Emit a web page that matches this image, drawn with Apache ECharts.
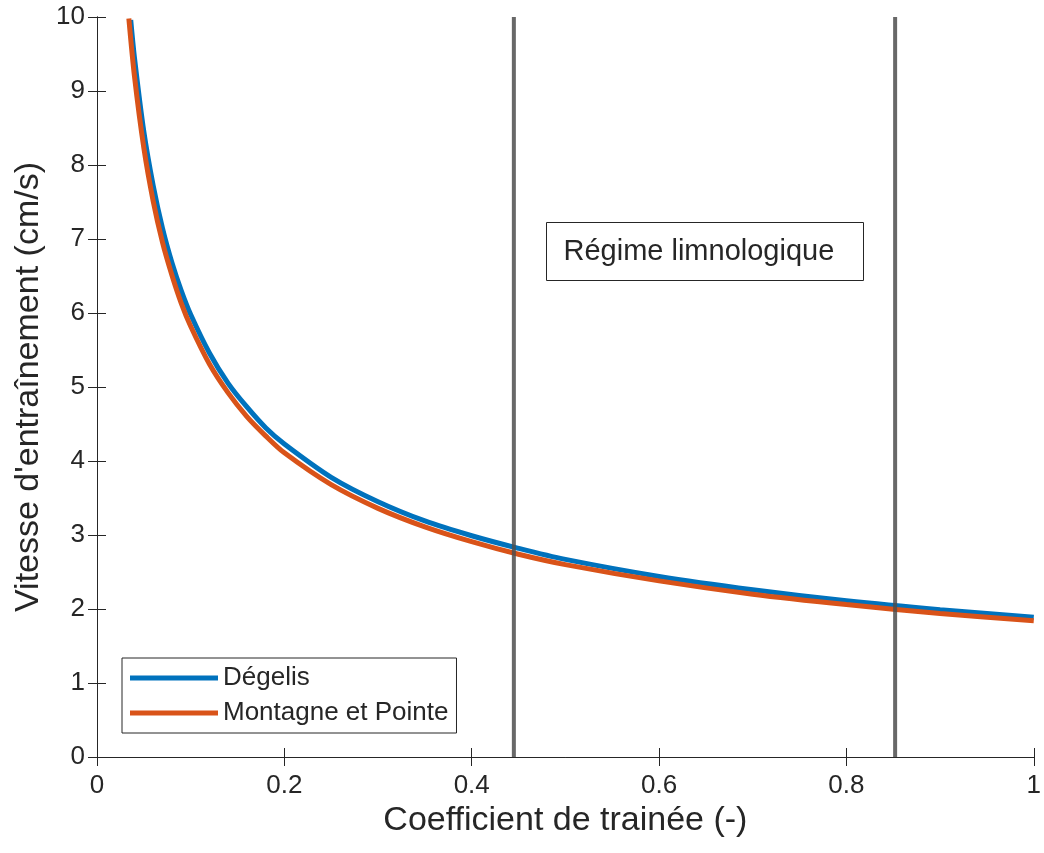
<!DOCTYPE html>
<html>
<head>
<meta charset="utf-8">
<script src="https://cdn.jsdelivr.net/npm/echarts@6/dist/echarts.min.js"></script>
<style>
  html, body { margin: 0; padding: 0; background: #fff; }
  #chart { width: 1044px; height: 853px; }
</style>
</head>
<body>
<div id="chart"></div>
<script>
// Drag coefficient samples and entrainment velocity (cm/s) for each site
const degelisCd = [0.036, 0.04, 0.05, 0.06, 0.07, 0.08, 0.09, 0.1, 0.12, 0.14, 0.16, 0.18, 0.2, 0.25, 0.3, 0.35, 0.4, 0.45, 0.5, 0.6, 0.7, 0.8, 0.9, 1.0];
const degelisV  = [9.96, 9.45, 8.45, 7.72, 7.14, 6.68, 6.30, 5.98, 5.46, 5.05, 4.73, 4.45, 4.23, 3.78, 3.45, 3.19, 2.99, 2.82, 2.67, 2.44, 2.26, 2.11, 1.99, 1.89];

const montagneCd = [0.034, 0.04, 0.05, 0.06, 0.07, 0.08, 0.09, 0.1, 0.12, 0.14, 0.16, 0.18, 0.2, 0.25, 0.3, 0.35, 0.4, 0.45, 0.5, 0.6, 0.7, 0.8, 0.9, 1.0];
const montagneV  = [9.98, 9.20, 8.23, 7.51, 6.95, 6.51, 6.13, 5.82, 5.31, 4.92, 4.60, 4.34, 4.11, 3.68, 3.36, 3.11, 2.91, 2.74, 2.60, 2.38, 2.20, 2.06, 1.94, 1.84];

// Bounds of the limnological regime
const regimeBounds = [0.445, 0.852];
const regimeLabel = 'Régime limnologique';

const seriesNames = ['Dégelis', 'Montagne et Pointe'];

const FONT = '"Liberation Sans", Arial, Helvetica, sans-serif';
const TXT = '#262626';
const AX = '#262626';

const chart = echarts.init(document.getElementById('chart'), null, { renderer: 'canvas' });

const pairs = (xs, ys) => xs.map((x, i) => [x, ys[i]]);

const axisCommon = {
  axisLine: { show: true, lineStyle: { color: AX, width: 1 } },
  axisTick: { show: true, inside: true, length: 9, lineStyle: { color: AX, width: 1 } },
  splitLine: { show: false }
};

const option = {
  animation: false,
  backgroundColor: '#ffffff',
  grid: { left: 97, right: 8, top: 17, bottom: 96, containLabel: false },
  xAxis: [
    Object.assign({
      type: 'value', min: 0, max: 1, interval: 0.2, position: 'bottom',
      name: 'Coefficient de trainée (-)', nameLocation: 'middle', nameGap: 36,
      nameTextStyle: { fontFamily: FONT, fontSize: 34, color: TXT },
      axisLabel: { fontFamily: FONT, fontSize: 26, color: TXT, margin: 16,
        formatter: v => String(Math.round(v * 10) / 10) }
    }, axisCommon),
    Object.assign({
      type: 'value', min: 0, max: 1, interval: 0.2, position: 'top',
      axisLabel: { show: false }
    }, axisCommon)
  ],
  yAxis: [
    Object.assign({
      type: 'value', min: 0, max: 10, interval: 1, position: 'left',
      name: "Vitesse d'entraînement (cm/s)", nameLocation: 'middle', nameGap: 50,
      nameTextStyle: { fontFamily: FONT, fontSize: 34, color: TXT },
      axisLabel: { fontFamily: FONT, fontSize: 26, color: TXT, margin: 12 }
    }, axisCommon),
    Object.assign({
      type: 'value', min: 0, max: 10, interval: 1, position: 'right',
      axisLabel: { show: false }
    }, axisCommon)
  ],
  legend: {
    orient: 'vertical',
    left: 122, top: 658,
    data: seriesNames,
    icon: 'rect',
    itemWidth: 88, itemHeight: 5,
    itemGap: 9,
    itemStyle: { borderWidth: 0 },
    padding: [7, 8, 7, 8],
    borderColor: '#262626', borderWidth: 1,
    backgroundColor: '#ffffff',
    textStyle: { fontFamily: FONT, fontSize: 26, color: TXT }
  },
  series: [
    {
      name: seriesNames[0], type: 'line', xAxisIndex: 0, yAxisIndex: 0,
      data: pairs(degelisCd, degelisV), smooth: 0.3, showSymbol: false, clip: true,
      lineStyle: { color: '#0072BD', width: 5 }, itemStyle: { color: '#0072BD' }, z: 2
    },
    {
      name: seriesNames[1], type: 'line', xAxisIndex: 0, yAxisIndex: 0,
      data: pairs(montagneCd, montagneV), smooth: 0.3, showSymbol: false, clip: true,
      lineStyle: { color: '#D95319', width: 5 }, itemStyle: { color: '#D95319' }, z: 3
    },
    ...regimeBounds.map(b => ({
      type: 'line', xAxisIndex: 0, yAxisIndex: 0,
      data: [[b, 0], [b, 10]], showSymbol: false, silent: true,
      lineStyle: { color: '#4d4d4d', width: 4, opacity: 0.85 }, z: 4
    }))
  ],
  graphic: [
    {
      type: 'group', left: 546, top: 222, z: 10,
      children: [
        { type: 'rect', shape: { x: 0, y: 0, width: 317, height: 58 },
          style: { fill: '#ffffff', stroke: '#262626', lineWidth: 1 } },
        { type: 'text', x: 17, y: 29,
          style: { text: regimeLabel, fontFamily: FONT, fontSize: 29, fill: TXT, verticalAlign: 'middle' } }
      ]
    }
  ]
};

chart.setOption(option);
</script>
</body>
</html>
